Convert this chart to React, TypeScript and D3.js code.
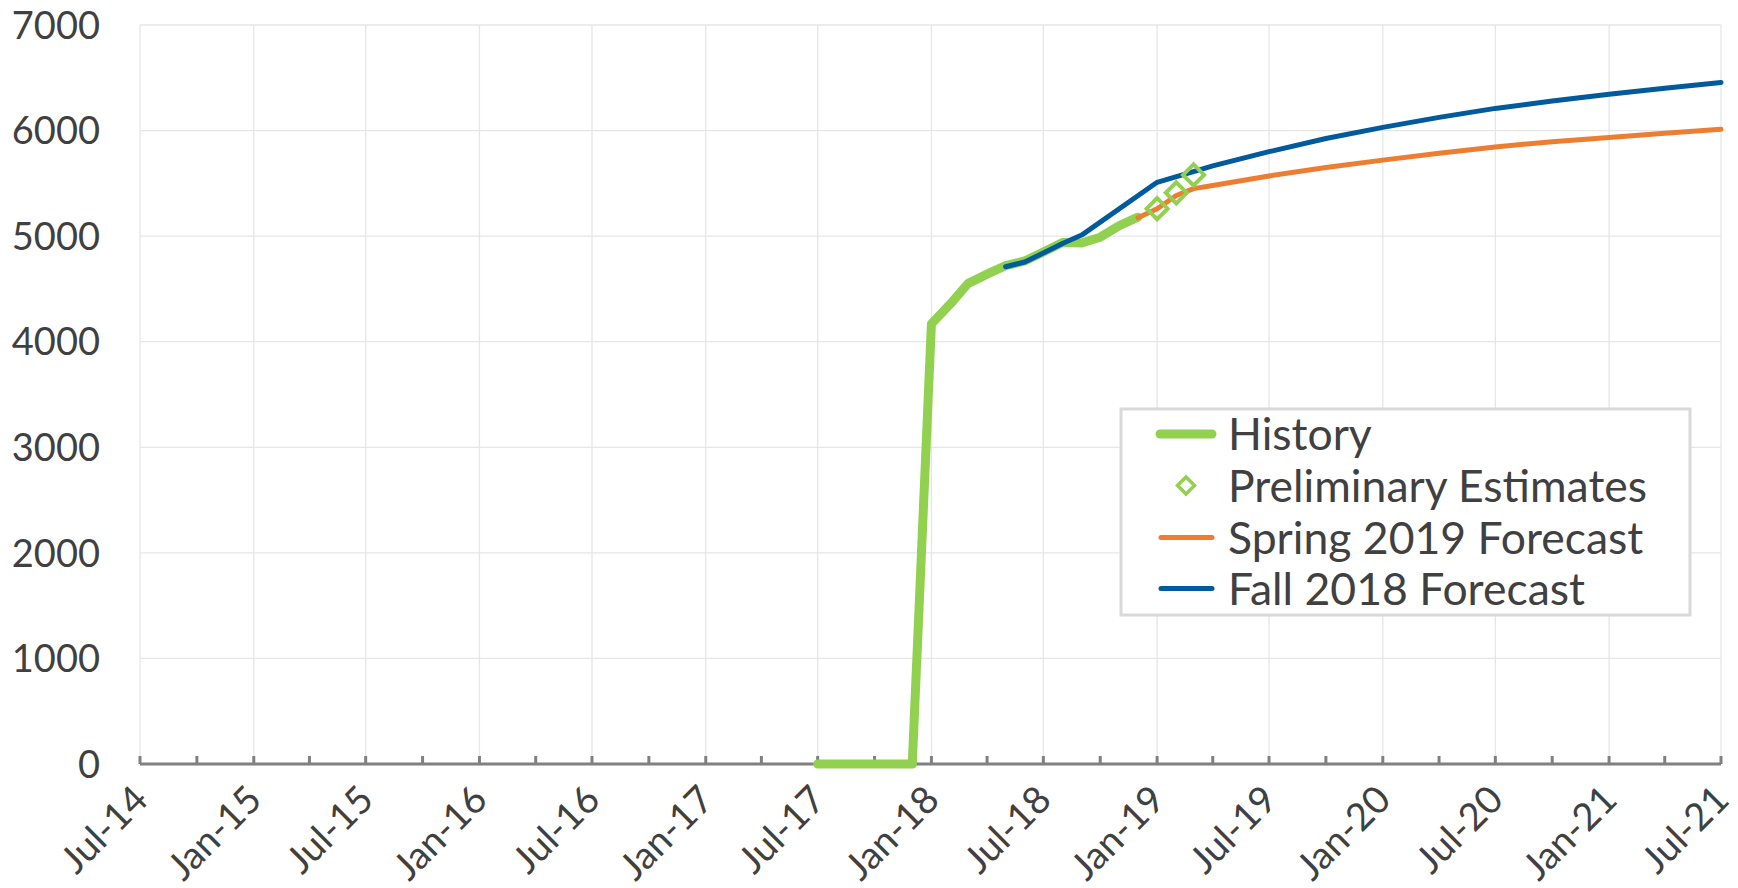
import React from "react";
import * as d3 from "d3";

const historyDates = ["2017-07","2017-08","2017-09","2017-10","2017-11","2017-12","2018-01","2018-02","2018-03","2018-04","2018-05","2018-06","2018-07","2018-08","2018-09","2018-10","2018-11","2018-12"];
const historyValues = [0,0,0,0,0,0,4170,4360,4550,4640,4720,4765,4850,4940,4935,4990,5100,5180];

const prelimDates = ["2019-01","2019-02","2019-03"];
const prelimValues = [5260,5410,5580];

const springDates = ["2018-12","2019-01","2019-02","2019-03","2019-04","2019-07","2019-10","2020-01","2020-04","2020-07","2020-10","2021-01","2021-04","2021-07"];
const springValues = [5175,5260,5385,5450,5480,5570,5650,5720,5785,5845,5895,5935,5975,6012];

const fallDates = ["2018-05","2018-06","2018-07","2018-08","2018-09","2019-01","2019-04","2019-07","2019-10","2020-01","2020-04","2020-07","2020-10","2021-01","2021-04","2021-07"];
const fallValues = [4710,4755,4840,4930,5010,5510,5665,5800,5925,6030,6125,6210,6280,6345,6400,6455];

const yTicks = [0,1000,2000,3000,4000,5000,6000,7000];
const xTickLabels = ["Jul-14","Jan-15","Jul-15","Jan-16","Jul-16","Jan-17","Jul-17","Jan-18","Jul-18","Jan-19","Jul-19","Jan-20","Jul-20","Jan-21","Jul-21"];

const legendLabels = ["History","Preliminary Estimates","Spring 2019 Forecast","Fall 2018 Forecast"];

const GREEN = "#92D050";
const ORANGE = "#ED7D31";
const BLUE = "#005A9C";
const GRID = "#E6E6E6";
const AXIS = "#808080";
const TEXT = "#404040";
const FONT = "Lato, 'Open Sans', sans-serif";

const parse = (s: string) => {
  const [y, m] = s.split("-").map(Number);
  return new Date(Date.UTC(y, m - 1, 1));
};

export default function App() {
  const W = 1738, H = 888;
  const left = 140, right = 1721, top = 25, bottom = 764;
  const x = d3.scaleUtc().domain([parse("2014-07"), parse("2021-07")]).range([left, right]);
  const y = d3.scaleLinear().domain([0, 7000]).range([bottom, top]);

  const line = d3.line<[Date, number]>().x(d => x(d[0])).y(d => y(d[1]));
  const zip = (ds: string[], vs: number[]) => ds.map((d, i) => [parse(d), vs[i]] as [Date, number]);

  const quarterTicks = d3.utcMonth.every(3)!.range(parse("2014-07"), d3.utcMonth.offset(parse("2021-07"), 1));
  const halfTicks = d3.utcMonth.every(6)!.range(parse("2014-07"), d3.utcMonth.offset(parse("2021-07"), 1)).filter(d => d.getUTCMonth() === 0 || d.getUTCMonth() === 6);

  const fs = 38;
  const lfs = 44.5;
  const diamond = (cx: number, cy: number, r: number) => `M${cx},${cy - r}L${cx + r},${cy}L${cx},${cy + r}L${cx - r},${cy}Z`;

  const legX = 1121, legY = 409, legW = 569, legH = 206;
  const rowY = [434, 485.5, 537.5, 588.5];

  return (
    <svg width={W} height={H} style={{ position: "absolute", left: 0, top: 0, background: "#fff" }} fontFamily={FONT}>
      <rect x={0} y={0} width={W} height={H} fill="#fff" />
      {/* gridlines */}
      {yTicks.filter(t => t > 0).map(t => (
        <line key={"hy" + t} x1={left} x2={right} y1={y(t)} y2={y(t)} stroke={GRID} strokeWidth={1.3} />
      ))}
      {halfTicks.map((d, i) => (
        <line key={"vx" + i} x1={x(d)} x2={x(d)} y1={top} y2={bottom} stroke={GRID} strokeWidth={1.3} />
      ))}
      {/* y labels */}
      {yTicks.map(t => (
        <text key={"yl" + t} x={100} y={y(t) + fs * 0.36} textAnchor="end" fontSize={fs} fill={TEXT}>{t}</text>
      ))}
      {/* x axis */}
      <line x1={left} x2={right} y1={bottom} y2={bottom} stroke={AXIS} strokeWidth={3} />
      {quarterTicks.map((d, i) => (
        <line key={"tk" + i} x1={x(d)} x2={x(d)} y1={bottom - 8} y2={bottom} stroke={AXIS} strokeWidth={3} />
      ))}
      {halfTicks.map((d, i) => (
        <text key={"xl" + i} transform={`translate(${x(d) + 10},${802}) rotate(-45)`} textAnchor="end" fontSize={fs} fill={TEXT}>{xTickLabels[i]}</text>
      ))}
      {/* series */}
      <path d={line(zip(historyDates, historyValues))!} fill="none" stroke={GREEN} strokeWidth={9} strokeLinecap="round" strokeLinejoin="round" />
      <path d={line(zip(fallDates, fallValues))!} fill="none" stroke={BLUE} strokeWidth={5} strokeLinecap="round" strokeLinejoin="round" />
      <path d={line(zip(springDates, springValues))!} fill="none" stroke={ORANGE} strokeWidth={5} strokeLinecap="round" strokeLinejoin="round" />
      {zip(prelimDates, prelimValues).map((d, i) => (
        <path key={"pd" + i} d={diamond(x(d[0]), y(d[1]), 10.5)} fill="none" stroke={GREEN} strokeWidth={4} />
      ))}
      {/* legend */}
      <rect x={legX} y={legY} width={legW} height={legH} fill="#fff" stroke="#D9D9D9" strokeWidth={3} />
      <line x1={1160} x2={1212} y1={rowY[0]} y2={rowY[0]} stroke={GREEN} strokeWidth={9} strokeLinecap="round" />
      <path d={diamond(1186, rowY[1], 8.5)} fill="none" stroke={GREEN} strokeWidth={3.5} />
      <line x1={1161} x2={1212} y1={rowY[2]} y2={rowY[2]} stroke={ORANGE} strokeWidth={5} strokeLinecap="round" />
      <line x1={1161} x2={1212} y1={rowY[3]} y2={rowY[3]} stroke={BLUE} strokeWidth={5} strokeLinecap="round" />
      {legendLabels.map((l, i) => (
        <text key={"lg" + i} x={1228} y={rowY[i] + lfs * 0.36} fontSize={lfs} fill={TEXT}>{l}</text>
      ))}
    </svg>
  );
}
